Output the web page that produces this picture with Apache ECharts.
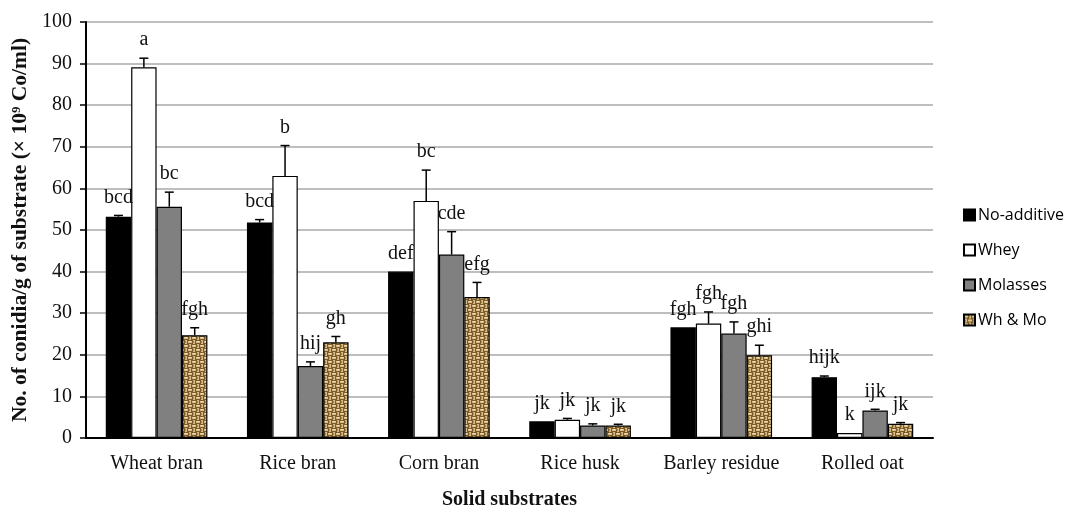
<!DOCTYPE html>
<html>
<head>
<meta charset="utf-8">
<script src="https://cdn.jsdelivr.net/npm/echarts@6/dist/echarts.min.js"></script>
<style>html,body{margin:0;padding:0;background:#fff;}#c{width:1070px;height:510px;}</style>
</head>
<body>
<div id="c"></div>
<script>
const categories = ['Wheat bran', 'Rice bran', 'Corn bran', 'Rice husk', 'Barley residue', 'Rolled oat'];
const seriesNames = ['No-additive', 'Whey', 'Molasses', 'Wh & Mo'];
const noAdditive = [53.2, 51.8, 40.0, 4.0, 26.6, 14.6];
const noAdditiveErr = [0.3, 0.7, 0, 0, 0, 0.3];
const noAdditiveLetters = ['bcd', 'bcd', 'def', 'jk', 'fgh', 'hijk'];
const whey = [89.1, 63.0, 57.0, 4.4, 27.5, 1.2];
const wheyErr = [2.2, 7.3, 7.4, 0.3, 2.8, 0];
const wheyLetters = ['a', 'b', 'bc', 'jk', 'fgh', 'k'];
const molasses = [55.6, 17.3, 44.1, 3.0, 25.1, 6.6];
const molassesErr = [3.5, 1.0, 5.5, 0.4, 2.8, 0.3];
const molassesLetters = ['bc', 'hij', 'cde', 'jk', 'fgh', 'ijk'];
const whMo = [24.7, 23.0, 33.9, 3.0, 19.9, 3.4];
const whMoErr = [1.8, 1.4, 3.5, 0.3, 2.4, 0.3];
const whMoLetters = ['fgh', 'gh', 'efg', 'jk', 'ghi', 'jk'];
const yTicks = [0, 10, 20, 30, 40, 50, 60, 70, 80, 90, 100];

// woven texture for "Wh & Mo"
function makeWeave() {
  const c = document.createElement('canvas');
  c.width = 8; c.height = 8;
  const g = c.getContext('2d');
  g.fillStyle = '#d6bc88'; g.fillRect(0, 0, 8, 8);
  g.fillStyle = '#7d5a26';
  g.fillRect(0, 0, 4, 1); g.fillRect(0, 3, 4, 1);
  g.fillRect(4, 4, 4, 1); g.fillRect(4, 7, 4, 1);
  g.fillRect(4, 0, 1, 4); g.fillRect(7, 0, 1, 4);
  g.fillRect(0, 4, 1, 4); g.fillRect(3, 4, 1, 4);
  g.fillStyle = '#f1e4c4';
  g.fillRect(1, 1, 2, 1); g.fillRect(5, 5, 2, 1);
  g.fillStyle = '#a98548';
  g.fillRect(5, 1, 1, 2); g.fillRect(1, 5, 1, 2);
  return c;
}
const weave = { image: makeWeave(), repeat: 'repeat' };

const vals = [noAdditive, whey, molasses, whMo];
const errs = [noAdditiveErr, wheyErr, molassesErr, whMoErr];
const lets = [noAdditiveLetters, wheyLetters, molassesLetters, whMoLetters];
const fills = ['#000000', '#ffffff', '#808080', weave];

const GAP = 0.28;
const nSeries = 4;
const serif = '"Liberation Serif", "Times New Roman", serif';

const series = [];
seriesNames.forEach((name, k) => {
  series.push({
    name: name,
    type: 'bar',
    data: vals[k],
    barGap: '0%',
    barCategoryGap: (GAP * 100) + '%',
    itemStyle: { color: fills[k], borderColor: '#000', borderWidth: 1.2 },
    emphasis: { disabled: true },
    z: 2
  });
});
seriesNames.forEach((name, k) => {
  const data = vals[k].map((v, i) => [i, v, errs[k][i]]);
  series.push({
    name: 'err' + k,
    type: 'custom',
    data: data,
    encode: { x: 0, y: 1 },
    z: 5,
    silent: true,
    renderItem: function (params, api) {
      const i = api.value(0);
      const v = api.value(1);
      const e = api.value(2);
      const catW = api.size([1, 0])[0];
      const groupW = catW * (1 - GAP);
      const barW = groupW / nSeries;
      const base = api.coord([i, v]);
      const x = base[0] - groupW / 2 + barW * (k + 0.5);
      const yTop = api.coord([i, v + e])[1];
      const children = [];
      if (e > 0) {
        children.push({ type: 'line', shape: { x1: x, y1: base[1], x2: x, y2: yTop }, style: { stroke: '#000', lineWidth: 1.5 } });
        children.push({ type: 'line', shape: { x1: x - 4.5, y1: yTop, x2: x + 4.5, y2: yTop }, style: { stroke: '#000', lineWidth: 1.5 } });
      }
      children.push({
        type: 'text',
        style: {
          text: lets[k][i], x: x, y: yTop - 8,
          textAlign: 'center', textVerticalAlign: 'bottom',
          font: '20px ' + serif, fill: '#111'
        }
      });
      return { type: 'group', children: children };
    }
  });
});

const chart = echarts.init(document.getElementById('c'));
chart.setOption({
  animation: false,
  backgroundColor: '#fff',
  grid: { left: 86, right: 137, top: 22, bottom: 72, containLabel: false, outerBoundsMode: 'none' },
  legend: {
    data: seriesNames,
    orient: 'vertical',
    left: 958, top: 202,
    itemWidth: 11, itemHeight: 11, itemGap: 19,
    icon: 'rect',
    selectedMode: false,
    textStyle: { fontFamily: '"Open Sans", "Noto Sans", sans-serif', fontSize: 16, color: '#000', padding: [0, 0, 0, -2] }
  },
  xAxis: {
    type: 'category',
    data: categories,
    name: 'Solid substrates',
    nameLocation: 'middle',
    nameGap: 52,
    nameTextStyle: { fontFamily: serif, fontSize: 20, fontWeight: 'bold', color: '#111' },
    axisLine: { lineStyle: { color: '#000', width: 2 } },
    axisTick: { show: false },
    axisLabel: { fontFamily: serif, fontSize: 20, color: '#111', margin: 16, interval: 0 }
  },
  yAxis: {
    type: 'value',
    min: 0, max: 100, interval: 10,
    name: 'No. of conidia/g of substrate (× 10⁹ Co/ml)',
    nameLocation: 'middle',
    nameGap: 53,
    nameTextStyle: { fontFamily: serif, fontSize: 21.5, fontWeight: 'bold', color: '#111' },
    axisLine: { show: true, lineStyle: { color: '#000', width: 2 } },
    axisTick: { show: true, inside: false, length: 6, lineStyle: { color: '#000', width: 1.5 } },
    axisLabel: { fontFamily: serif, fontSize: 20, color: '#111', margin: 14,
      formatter: function (v) { return yTicks.indexOf(v) >= 0 ? String(v) : ''; } },
    splitLine: { show: true, lineStyle: { color: '#a8a8a8', width: 1.5 } }
  },
  series: series
});
</script>
</body>
</html>
